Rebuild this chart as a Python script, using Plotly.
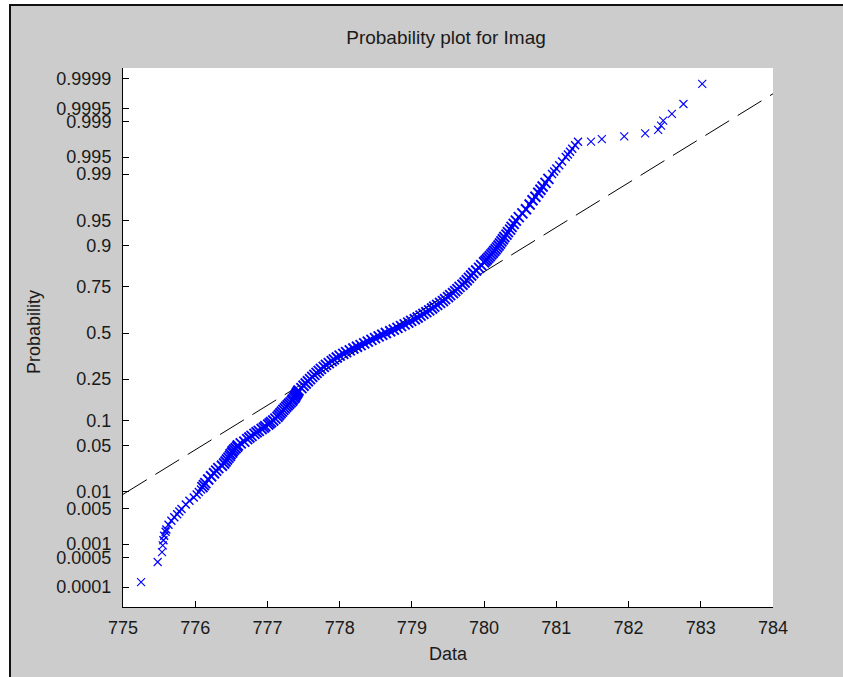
import math
import numpy as np
import plotly.graph_objects as go

# ---------------- data ----------------
title_text = "Probability plot for Imag"
x_label = "Data"
y_label = "Probability"

x_ticks = [775, 776, 777, 778, 779, 780, 781, 782, 783, 784]
y_tick_probs = [0.0001, 0.0005, 0.001, 0.005, 0.01, 0.05, 0.1, 0.25, 0.5,
                0.75, 0.9, 0.95, 0.99, 0.995, 0.999, 0.9995, 0.9999]
y_tick_labels = ["0.0001", "0.0005", "0.001", "0.005", "0.01", "0.05", "0.1",
                 "0.25", "0.5", "0.75", "0.9", "0.95", "0.99", "0.995",
                 "0.999", "0.9995", "0.9999"]

# probability (plotting position) of each plotted sample
data_p = [
    0.000133, 0.0004, 0.000667, 0.000933, 0.0012, 0.0015, 0.0018, 0.002,
    0.0025, 0.003, 0.0035, 0.004, 0.0045, 0.005, 0.006, 0.007, 0.008, 0.009,
    0.010, 0.011, 0.012, 0.013, 0.014, 0.016, 0.018, 0.020, 0.022, 0.024,
    0.026, 0.028, 0.030, 0.032, 0.034, 0.036, 0.038, 0.040, 0.042, 0.044,
    0.046, 0.048, 0.050, 0.053, 0.056, 0.060, 0.063, 0.066, 0.070, 0.073,
    0.076, 0.080, 0.083, 0.086, 0.090, 0.093, 0.096, 0.100, 0.105, 0.110,
    0.115, 0.120, 0.125, 0.130, 0.135, 0.140, 0.145, 0.150, 0.155, 0.160,
    0.165, 0.170, 0.175, 0.180, 0.185, 0.190, 0.195, 0.200, 0.21, 0.22,
    0.23, 0.24, 0.25, 0.26, 0.27, 0.28, 0.29, 0.30, 0.31, 0.32, 0.33, 0.34,
    0.35, 0.36, 0.37, 0.38, 0.39, 0.40, 0.41, 0.42, 0.43, 0.44, 0.45, 0.46,
    0.47, 0.48, 0.49, 0.50, 0.51, 0.52, 0.53, 0.54, 0.55, 0.56, 0.57, 0.58,
    0.59, 0.60, 0.61, 0.62, 0.63, 0.64, 0.65, 0.66, 0.67, 0.68, 0.69, 0.70,
    0.71, 0.72, 0.73, 0.74, 0.75, 0.76, 0.77, 0.78, 0.79, 0.80, 0.81, 0.82,
    0.83, 0.84, 0.85, 0.855, 0.86, 0.865, 0.87, 0.875, 0.88, 0.885, 0.89,
    0.895, 0.90, 0.905, 0.91, 0.915, 0.92, 0.925, 0.93, 0.935, 0.94, 0.945,
    0.95, 0.955, 0.96, 0.965, 0.97, 0.974, 0.977, 0.98, 0.982, 0.984, 0.986,
    0.988, 0.99, 0.991, 0.992, 0.993, 0.994, 0.995, 0.9955, 0.996, 0.9965,
    0.997, 0.99745, 0.997467, 0.997733, 0.998, 0.998267, 0.998533, 0.9988,
    0.999067, 0.999333, 0.9996, 0.999867,
]
# sample value of each plotted point
data_x = [
    775.25, 775.48, 775.54, 775.55, 775.56, 775.57, 775.59, 775.60,
    775.63, 775.67, 775.71, 775.75, 775.78, 775.81, 775.87, 775.92, 775.98, 776.02,
    776.05, 776.08, 776.10, 776.12, 776.14, 776.18, 776.22, 776.26, 776.29, 776.32,
    776.37, 776.40, 776.42, 776.44, 776.46, 776.48, 776.49, 776.51, 776.52, 776.54,
    776.56, 776.58, 776.59, 776.63, 776.68, 776.72, 776.75, 776.78, 776.82, 776.85,
    776.88, 776.92, 776.95, 776.97, 777.01, 777.03, 777.05, 777.08, 777.11, 777.14,
    777.16, 777.18, 777.20, 777.22, 777.24, 777.26, 777.28, 777.30, 777.32, 777.34,
    777.35, 777.37, 777.38, 777.39, 777.40, 777.41, 777.42, 777.43, 777.47, 777.50,
    777.53, 777.56, 777.59, 777.62, 777.65, 777.68, 777.71, 777.74, 777.78, 777.81, 777.85, 777.89,
    777.92, 777.96, 778.00, 778.05, 778.09, 778.14, 778.19, 778.24, 778.29, 778.34, 778.39, 778.44,
    778.49, 778.54, 778.59, 778.64, 778.70, 778.75, 778.80, 778.85, 778.90, 778.95, 778.99, 779.04,
    779.08, 779.12, 779.16, 779.20, 779.24, 779.28, 779.31, 779.35, 779.39, 779.43, 779.46, 779.50,
    779.53, 779.57, 779.60, 779.63, 779.66, 779.70, 779.73, 779.76, 779.79, 779.82, 779.85, 779.89,
    779.93, 779.96, 780.00, 780.02, 780.04, 780.06, 780.08, 780.10, 780.12, 780.14, 780.16,
    780.18, 780.20, 780.22, 780.24, 780.26, 780.28, 780.31, 780.33, 780.36, 780.38, 780.41,
    780.44, 780.48, 780.53, 780.58, 780.63, 780.67, 780.71, 780.75, 780.78, 780.81, 780.85,
    780.89, 780.94, 780.97, 781.00, 781.04, 781.08, 781.13, 781.16, 781.19, 781.22,
    781.26, 781.30, 781.48, 781.63, 781.94, 782.23, 782.41, 782.45,
    782.48, 782.60, 782.76, 783.02,
]

# quartile probabilities used by the reference (robust fit) line
q_low, q_high = 0.25, 0.75


# ---------------- normal probability scale ----------------
def norm_cdf(z):
    return 0.5 * math.erfc(-z / math.sqrt(2.0))


def norm_inv(p):
    lo, hi = -10.0, 10.0
    for _ in range(100):
        mid = 0.5 * (lo + hi)
        if norm_cdf(mid) < p:
            lo = mid
        else:
            hi = mid
    return 0.5 * (lo + hi)


y_z = [norm_inv(p) for p in data_p]
tick_z = [norm_inv(p) for p in y_tick_probs]

# reference line through the first and third quartiles of the data
order = np.argsort(data_p)
px_sorted = np.array(data_p)[order]
dx_sorted = np.array(data_x)[order]
x_q1 = float(np.interp(q_low, px_sorted, dx_sorted))
x_q3 = float(np.interp(q_high, px_sorted, dx_sorted))
z_q1, z_q3 = norm_inv(q_low), norm_inv(q_high)
slope = (z_q3 - z_q1) / (x_q3 - x_q1)


def line_z(x):
    return z_q1 + slope * (x - x_q1)


x_lo, x_hi = x_ticks[0], x_ticks[-1]


# marker weight depends on how crowded that part of the sample is
def group(p):
    if p < 0.0011 or p > 0.99746:
        return "isolated"
    if p < 0.012 or p > 0.988:
        return "tail"
    return "body"


groups = [group(p) for p in data_p]
styles = {
    "isolated": dict(size=8, width=1.1),
    "tail": dict(size=8, width=1.4),
    "body": dict(size=10, width=1.9),
}

# ---------------- figure geometry ----------------
W, H = 843, 677
ML, MR, MT, MB = 123, 70, 68, 70
PW, PH = W - ML - MR, H - MT - MB


def pxx(X):
    return (X - ML) / PW


def pxy(Y):
    return (H - MB - Y) / PH


FONT = "Liberation Sans, Arial, Helvetica, sans-serif"
GREY = "#cccccc"
TXT = "#1a1a1a"

fig = go.Figure()

# dashed extension of the fit line
fig.add_trace(go.Scatter(
    x=[x_lo, x_hi], y=[line_z(x_lo), line_z(x_hi)], mode="lines",
    line=dict(color="black", width=1, dash="28px,10px"),
    hoverinfo="skip", showlegend=False))
# solid part between quartiles
fig.add_trace(go.Scatter(
    x=[x_q1, x_q3], y=[line_z(x_q1), line_z(x_q3)], mode="lines",
    line=dict(color="black", width=1),
    hoverinfo="skip", showlegend=False))
# data
for gname, st in styles.items():
    gx = [x for x, g in zip(data_x, groups) if g == gname]
    gz = [z for z, g in zip(y_z, groups) if g == gname]
    fig.add_trace(go.Scatter(
        x=gx, y=gz, mode="markers",
        marker=dict(symbol="x-thin", size=st["size"], color="#0000ff",
                    line=dict(color="#0000ff", width=st["width"])),
        showlegend=False))

y_lo = -(H - MB - 333) / 68.3
y_hi = (333 - MT) / 68.3

fig.update_layout(
    width=W, height=H,
    margin=dict(l=ML, r=MR, t=MT, b=MB, pad=0),
    paper_bgcolor=GREY, plot_bgcolor="white",
    font=dict(family=FONT, size=18, color=TXT),
    title=dict(text=title_text, x=pxx(446), xref="paper", xanchor="center",
               y=1 - 37 / H, yref="container", yanchor="middle",
               font=dict(family=FONT, size=19, color=TXT)),
    xaxis=dict(range=[x_lo, x_hi], tickvals=x_ticks,
               ticktext=[str(t) for t in x_ticks],
               ticks="inside", ticklen=6, tickcolor="black", tickwidth=1,
               showline=True, linecolor="black", linewidth=1, mirror=False,
               showgrid=False, zeroline=False, ticklabelstandoff=4,
               tickfont=dict(family=FONT, size=18, color=TXT)),
    yaxis=dict(range=[y_lo, y_hi], tickvals=tick_z, ticktext=y_tick_labels,
               ticks="inside", ticklen=6, tickcolor="black", tickwidth=1,
               showline=True, linecolor="black", linewidth=1, mirror=False,
               showgrid=False, zeroline=False, ticklabelstandoff=7,
               tickfont=dict(family=FONT, size=18, color=TXT)),
    annotations=[
        dict(text=x_label, x=0.5, y=pxy(654), xref="paper", yref="paper",
             xanchor="center", yanchor="middle", showarrow=False,
             font=dict(family=FONT, size=18, color=TXT)),
        dict(text=y_label, x=pxx(34), y=pxy(332), xref="paper", yref="paper",
             xanchor="center", yanchor="middle", textangle=-90, showarrow=False,
             font=dict(family=FONT, size=18, color=TXT)),
    ],
    shapes=[
        # white surround outside the grey figure window
        dict(type="rect", xref="paper", yref="paper", x0=pxx(-5), x1=pxx(9),
             y0=pxy(H + 5), y1=pxy(-5), fillcolor="white", line=dict(width=0),
             layer="below"),
        dict(type="rect", xref="paper", yref="paper", x0=pxx(-5), x1=pxx(W + 5),
             y0=pxy(4), y1=pxy(-5), fillcolor="white", line=dict(width=0),
             layer="below"),
        # dark frame of the window
        dict(type="line", xref="paper", yref="paper", x0=pxx(10), x1=pxx(10),
             y0=pxy(H + 5), y1=pxy(4), line=dict(color="#111111", width=2)),
        dict(type="line", xref="paper", yref="paper", x0=pxx(9), x1=pxx(W + 5),
             y0=pxy(5), y1=pxy(5), line=dict(color="#111111", width=2)),
    ],
)

fig.write_html("out.html")
